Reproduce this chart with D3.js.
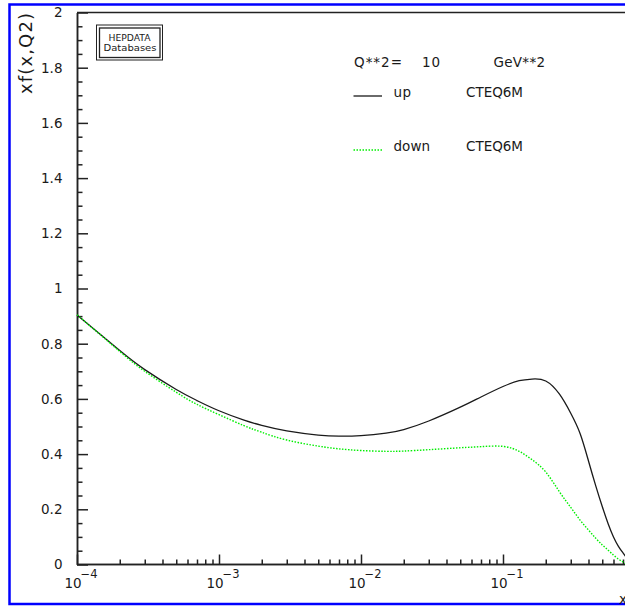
<!DOCTYPE html>
<html>
<head>
<meta charset="utf-8">
<script src="https://cdn.jsdelivr.net/npm/d3@7"></script>
<style>
  html, body { margin: 0; padding: 0; background: #fff; }
  svg { display: block; }
  text { font-family: "DejaVu Sans", sans-serif; fill: #1a1a1a; }
</style>
</head>
<body>
<svg id="chart" width="625" height="608"></svg>
<script>
// Parton distributions xf(x,Q2) at Q**2 = 10 GeV**2 (CTEQ6M)
const xValues = [1e-4, 2e-4, 3e-4, 5e-4, 7e-4, 1e-3, 1.5e-3, 2e-3, 3e-3, 5e-3, 7e-3,
                 1e-2, 1.5e-2, 2e-2, 3e-2, 5e-2, 7e-2, 0.1, 0.13, 0.16, 0.2, 0.25,
                 0.3, 0.35, 0.4, 0.45, 0.5, 0.55, 0.6, 0.65, 0.7, 0.74];
const upValues = [0.904, 0.775, 0.706, 0.634, 0.594, 0.557, 0.523, 0.504, 0.484, 0.469, 0.465,
                  0.467, 0.476, 0.489, 0.520, 0.570, 0.607, 0.645, 0.666, 0.672, 0.665, 0.617,
                  0.548, 0.473, 0.375, 0.285, 0.21, 0.148, 0.10, 0.066, 0.042, 0.025];
const downValues = [0.905, 0.772, 0.70, 0.624, 0.58, 0.543, 0.503, 0.479, 0.451, 0.429, 0.419,
                    0.413, 0.410, 0.411, 0.416, 0.423, 0.427, 0.428, 0.41, 0.38, 0.335, 0.263,
                    0.207, 0.16, 0.125, 0.095, 0.071, 0.052, 0.034, 0.02, 0.009, 0.002];

const xMajorTicks = [1e-4, 1e-3, 1e-2, 1e-1];
const xTickExponents = ["\u22124", "\u22123", "\u22122", "\u22121"];
const yTicks = [0, 0.2, 0.4, 0.6, 0.8, 1, 1.2, 1.4, 1.6, 1.8, 2];
const yTitle = "xf(x,Q2)";
const xTitle = "x";
const legendHeader = ["Q**2=", "10", "GeV**2"];
const seriesNames = ["up", "down"];
const setName = "CTEQ6M";

const svg = d3.select("#chart");
const plotLeft = 77, plotTop = 12.5, plotBottom = 564.5, plotRight = 645;

const x = d3.scaleLog().domain([1e-4, 1]).range([plotLeft, plotRight]);
const y = d3.scaleLinear().domain([0, 2]).range([plotBottom, plotTop]);

// outer frame
svg.append("rect")
  .attr("x", 9.5).attr("y", 4.5).attr("width", 700).attr("height", 599.5)
  .attr("fill", "none").attr("stroke", "#0000ff").attr("stroke-width", 2.5);

// top border of the plot area
svg.append("line")
  .attr("x1", plotLeft).attr("x2", 700).attr("y1", plotTop).attr("y2", plotTop)
  .attr("stroke", "#222").attr("stroke-width", 1.5);

// x axis: major and minor ticks pointing up
const xMinor = [];
[1e-4, 1e-3, 1e-2, 1e-1].forEach(d => { for (let k = 2; k <= 9; k++) xMinor.push(d * k); });

const gx = svg.append("g").attr("transform", `translate(0,${plotBottom})`);
gx.call(d3.axisBottom(x).tickValues(xMinor).tickSize(-5).tickSizeOuter(0).tickFormat(""));
gx.append("g").call(d3.axisBottom(x).tickValues(xMajorTicks).tickSize(-10).tickSizeOuter(0).tickFormat(""));
gx.selectAll("path.domain").attr("d", `M${plotLeft},0H700`);
gx.selectAll("path, line").attr("stroke", "#222").attr("stroke-width", 1.5);

// x tick labels: 10 with superscript exponent
xMajorTicks.forEach((t, i) => {
  const px = x(t);
  const lbl = svg.append("text").attr("x", px - 12.5).attr("y", 588).attr("font-size", 13.5);
  lbl.append("tspan").text("10");
  lbl.append("tspan").attr("x", px + 3.5).attr("y", 578).attr("font-size", 11.5).text(xTickExponents[i]);
});

// y axis: major ticks labelled, minor ticks every 0.05
const yMinor = d3.range(0, 2.0001, 0.05).filter(v => Math.abs(v * 5 - Math.round(v * 5)) > 1e-6);
const gy = svg.append("g").attr("transform", `translate(${plotLeft},0)`);
gy.call(d3.axisLeft(y).tickValues(yMinor).tickSize(-5.5).tickSizeOuter(0).tickFormat(""));
const gyMajor = gy.append("g").call(d3.axisLeft(y).tickValues(yTicks).tickSize(-11).tickSizeOuter(0)
  .tickPadding(14.5).tickFormat(d => String(+d.toFixed(1))));
gy.selectAll("path, line").attr("stroke", "#222").attr("stroke-width", 1.5);
gyMajor.selectAll("text").attr("font-size", 13.5).attr("fill", "#1a1a1a")
  .attr("font-family", "'DejaVu Sans', sans-serif");

// axis titles
svg.append("text")
  .attr("transform", "translate(31.5,13) rotate(-90)")
  .attr("text-anchor", "end").attr("font-size", 18)
  .attr("textLength", 81).attr("lengthAdjust", "spacing")
  .text(yTitle);
svg.append("text").attr("x", 619).attr("y", 604).attr("font-size", 13.5).text(xTitle);

// curves
const line = d3.line().x(d => x(d[0])).y(d => y(d[1])).curve(d3.curveNatural);
svg.append("path")
  .datum(xValues.map((v, i) => [v, upValues[i]]))
  .attr("d", line).attr("fill", "none").attr("stroke", "#1a1a1a").attr("stroke-width", 1.3);
svg.append("path")
  .datum(xValues.map((v, i) => [v, downValues[i]]))
  .attr("d", line).attr("fill", "none").attr("stroke", "#00ee00").attr("stroke-width", 1.4)
  .attr("stroke-dasharray", "1.5,1.5");

// HEPDATA logo box
svg.append("rect").attr("x", 96.5).attr("y", 25).attr("width", 66).attr("height", 35)
  .attr("fill", "none").attr("stroke", "#222").attr("stroke-width", 1);
svg.append("rect").attr("x", 99.5).attr("y", 28).attr("width", 60.5).attr("height", 29.5)
  .attr("fill", "none").attr("stroke", "#222").attr("stroke-width", 1.3);
svg.append("text").attr("x", 108.5).attr("y", 40.5).attr("font-size", 9.5)
  .attr("textLength", 42).attr("lengthAdjust", "spacingAndGlyphs").text("HEPDATA");
svg.append("text").attr("x", 103.5).attr("y", 50.5).attr("font-size", 9.5)
  .attr("textLength", 53).attr("lengthAdjust", "spacingAndGlyphs").text("Databases");

// legend
const lg = svg.append("g").attr("font-size", 13.5);
lg.append("text").attr("x", 354).attr("y", 67).attr("textLength", 48).attr("lengthAdjust", "spacing").text(legendHeader[0]);
lg.append("text").attr("x", 422).attr("y", 67).attr("textLength", 18).attr("lengthAdjust", "spacing").text(legendHeader[1]);
lg.append("text").attr("x", 493.5).attr("y", 67).attr("textLength", 51.5).attr("lengthAdjust", "spacing").text(legendHeader[2]);

const legendRows = [
  { name: seriesNames[0], y: 96.5, stroke: "#1a1a1a", dash: null, len: 17.5 },
  { name: seriesNames[1], y: 150.5, stroke: "#00ee00", dash: "1.5,1.5", len: 36.5 }
];
legendRows.forEach(r => {
  lg.append("line").attr("x1", 353.5).attr("x2", 382).attr("y1", r.y - 0.5).attr("y2", r.y - 0.5)
    .attr("stroke", r.stroke).attr("stroke-width", 1.3).attr("stroke-dasharray", r.dash);
  lg.append("text").attr("x", 393.5).attr("y", r.y).attr("textLength", r.len).attr("lengthAdjust", "spacing").text(r.name);
  lg.append("text").attr("x", 466).attr("y", r.y).attr("textLength", 57).attr("lengthAdjust", "spacing").text(setName);
});
</script>
</body>
</html>
